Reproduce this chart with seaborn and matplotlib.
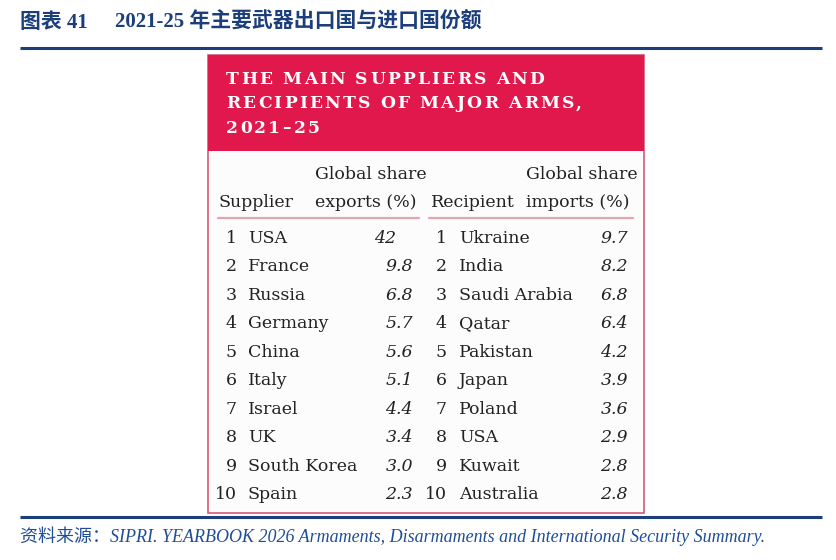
import matplotlib
matplotlib.use("Agg")
import numpy as np
import pandas as pd
import seaborn as sns
import matplotlib.pyplot as plt
from matplotlib.patches import Rectangle

# ---------------- data ----------------
title_label = "图表 41"
title_text = "2021-25 年主要武器出口国与进口国份额"
header_lines = ["THE MAIN SUPPLIERS AND", "RECIPIENTS OF MAJOR ARMS,", "2021–25"]
col_head_top = ["Global share", "Global share"]
col_head_bottom = ["Supplier", "exports (%)", "Recipient", "imports (%)"]
source_text = "资料来源：SIPRI. YEARBOOK 2026 Armaments, Disarmaments and International Security Summary."

ranks = list(range(1, 11))
suppliers = ["USA", "France", "Russia", "Germany", "China", "Italy", "Israel",
             "UK", "South Korea", "Spain"]
exports = [42, 9.8, 6.8, 5.7, 5.6, 5.1, 4.4, 3.4, 3.0, 2.3]
recipients = ["Ukraine", "India", "Saudi Arabia", "Qatar", "Pakistan", "Japan",
              "Poland", "USA", "Kuwait", "Australia"]
imports = [9.7, 8.2, 6.8, 6.4, 4.2, 3.9, 3.6, 2.9, 2.8, 2.8]

df = pd.DataFrame({"rank": ranks, "supplier": suppliers, "exports": exports,
                   "recipient": recipients, "imports": imports})


def fmt(v):
    return f"{v:g}" if v >= 10 else f"{v:.1f}"


# ---------------- style ----------------
sns.set_theme(style="white")
plt.rcParams["font.family"] = ["DejaVu Serif"]

W, H = 837, 560
fig = plt.figure(figsize=(W / 100, H / 100), dpi=100)
fig.patch.set_facecolor("white")
ax = fig.add_axes([0, 0, 1, 1])
ax.set_xlim(0, W)
ax.set_ylim(H, 0)
ax.axis("off")
sns.despine(ax=ax, left=True, bottom=True)

BLUE = "#1C3F7C"
RED = "#E0184C"
TXT = "#222222"
cjk = ["Liberation Serif", "Noto Sans CJK SC"]
renderer = fig.canvas.get_renderer()

# title
ax.text(20, 23, title_label, family=cjk, weight="bold", fontsize=15,
        color=BLUE, ha="left", va="center")
ax.text(115, 23, title_text, family=cjk, weight="bold", fontsize=15,
        color=BLUE, ha="left", va="center")
ax.plot([20, 822], [48, 48], color=BLUE, lw=2.2, solid_capstyle="butt")

# table box
bx0, by0, bx1, by1 = 208, 55, 644, 513
ax.add_patch(Rectangle((bx0, by0), bx1 - bx0, by1 - by0, facecolor="#FCFCFC",
                       edgecolor="#D65A72", lw=1.2, zorder=1))
ax.add_patch(Rectangle((bx0, by0), bx1 - bx0, 96, facecolor=RED,
                       edgecolor="none", zorder=2))


def make_chars(s, **kw):
    items = []
    for ch in s:
        if ch == " ":
            items.append((None, 5.5))
        else:
            t = ax.text(0, 0, ch, ha="left", va="baseline", zorder=3, **kw)
            items.append((t, t.get_window_extent(renderer=renderer).width))
    return items


hkw = dict(family="DejaVu Serif", weight="bold", fontsize=12.3, color="white")
lines_chars = [make_chars(s, **hkw) for s in header_lines]
# tracking chosen so the second line spans 226 -> 582 px
nat = sum(w for _, w in lines_chars[1])
track = (582 - 226 - nat) / (len(lines_chars[1]) - 1)
for i, items in enumerate(lines_chars):
    x = 226
    y = 84 + i * 24.5
    for t, w in items:
        if t is not None:
            t.set_position((x, y))
        x += w + track

# column headers
FS = 12.5
ax.text(315, 179, col_head_top[0], fontsize=FS, color=TXT, ha="left", va="baseline", zorder=3)
ax.text(526, 179, col_head_top[1], fontsize=FS, color=TXT, ha="left", va="baseline", zorder=3)
hx = [219, 315, 431, 526]
for x, s in zip(hx, col_head_bottom):
    ax.text(x, 207, s, fontsize=FS, color=TXT, ha="left", va="baseline", zorder=3)
ax.plot([218, 419], [218, 218], color="#E9A3AE", lw=1.6, zorder=3)
ax.plot([429, 633], [218, 218], color="#E9A3AE", lw=1.6, zorder=3)

# width of a fractional part such as ".8" (for decimal alignment)
probe = ax.text(0, 0, ".8", fontsize=FS, style="italic")
frac_w = probe.get_window_extent(renderer=renderer).width
probe.remove()

row0, step = 243, 28.45


def draw_value(xright, y, v):
    s = fmt(v)
    xr = xright if "." in s else xright - frac_w
    ax.text(xr, y, s, fontsize=FS, style="italic", color=TXT,
            ha="right", va="baseline", zorder=3)


for _, r in df.iterrows():
    y = row0 + (r["rank"] - 1) * step
    ax.text(237, y, str(r["rank"]), fontsize=FS, color=TXT, ha="right", va="baseline", zorder=3)
    ax.text(248, y, r["supplier"], fontsize=FS, color=TXT, ha="left", va="baseline", zorder=3)
    draw_value(413, y, r["exports"])
    ax.text(447, y, str(r["rank"]), fontsize=FS, color=TXT, ha="right", va="baseline", zorder=3)
    ax.text(459, y, r["recipient"], fontsize=FS, color=TXT, ha="left", va="baseline", zorder=3)
    draw_value(628, y, r["imports"])

# bottom rule and source
ax.plot([20, 822], [517, 517], color=BLUE, lw=2.2, solid_capstyle="butt")
ax.text(20, 536, source_text, family=cjk, style="italic", fontsize=13,
        color="#1F4E96", ha="left", va="center")

fig.savefig("out.png", dpi=100, facecolor="white")
